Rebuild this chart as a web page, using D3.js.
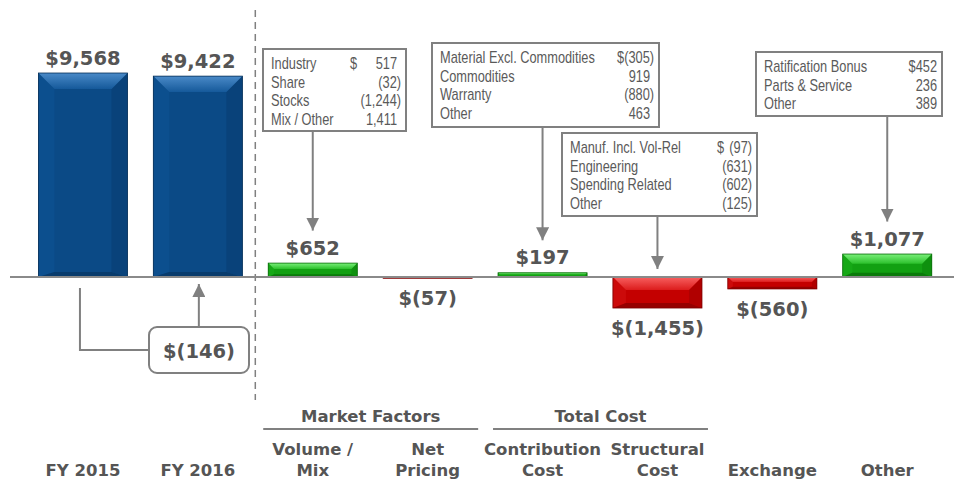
<!DOCTYPE html>
<html>
<head>
<meta charset="utf-8">
<script src="https://cdn.jsdelivr.net/npm/d3@7"></script>
<style>
  html, body { margin: 0; padding: 0; background: #ffffff; }
  svg { display: block; }
</style>
</head>
<body>
<svg id="chart" width="954" height="479"></svg>
<script>
// ---------------- DATA ----------------
const categories = ["FY 2015", "FY 2016", "Volume / Mix", "Net Pricing", "Contribution Cost", "Structural Cost", "Exchange", "Other"];
const categoryLines = [["FY 2015"], ["FY 2016"], ["Volume /", "Mix"], ["Net", "Pricing"], ["Contribution", "Cost"], ["Structural", "Cost"], ["Exchange"], ["Other"]];
const values = [9568, 9422, 652, -57, 197, -1455, -560, 1077];
const valueLabels = ["$9,568", "$9,422", "$652", "$(57)", "$197", "$(1,455)", "$(560)", "$1,077"];
const barKinds = ["total", "total", "delta", "delta", "delta", "delta", "delta", "delta"];

const groupNames = ["Market Factors", "Total Cost"];
const groupSpans = [[2, 3], [4, 5]];

const totalChange = "$(146)";

const volumeDetail = [["Industry", "$", "517"], ["Share", "", "(32)"], ["Stocks", "", "(1,244)"], ["Mix / Other", "", "1,411"]];
const contributionDetail = [["Material Excl. Commodities", "", "$(305)"], ["Commodities", "", "919"], ["Warranty", "", "(880)"], ["Other", "", "463"]];
const structuralDetail = [["Manuf. Incl. Vol-Rel", "$", "(97)"], ["Engineering", "", "(631)"], ["Spending Related", "", "(602)"], ["Other", "", "(125)"]];
const otherDetail = [["Ratification Bonus", "", "$452"], ["Parts & Service", "", "236"], ["Other", "", "389"]];

// ---------------- LAYOUT ----------------
const W = 954, H = 479;
const svg = d3.select("#chart");
const grey = "#808080";
const textDark = "#555555";
const boldFont = "'DejaVu Sans', 'Liberation Sans', Arial, sans-serif";
const narrowFont = "'Liberation Sans', Arial, sans-serif";
const narrowScale = 0.8;

const x = d3.scaleBand().domain(categories).range([25.5, 944.7]).paddingInner(0.225).paddingOuter(0.1125);
const y = d3.scaleLinear().domain([0, 10000]).range([277, 63.8]);

const palette = {
  total: { base: "#0b4a86", top1: "#4a8ac8", top2: "#15599a", left: "#0c4f8e", right: "#09427a", bottom: "#083b6c", stroke: "#062f57" },
  pos:   { base: "#12a012", top1: "#7af07a", top2: "#2cc02c", left: "#16a816", right: "#0e900e", bottom: "#0a7a0a", stroke: "#096a09" },
  neg:   { base: "#c40000", top1: "#f86060", top2: "#dc1c1c", left: "#cc0a0a", right: "#b00000", bottom: "#960000", stroke: "#7c0000" }
};

// defs: arrowhead + gradients
const defs = svg.append("defs");
defs.append("marker").attr("id", "arrow").attr("viewBox", "0 0 10 10")
  .attr("refX", 10).attr("refY", 5).attr("markerWidth", 6.5).attr("markerHeight", 6.5)
  .attr("markerUnits", "strokeWidth").attr("orient", "auto")
  .append("path").attr("d", "M0,0 L10,5 L0,10 Z").attr("fill", grey);
Object.entries(palette).forEach(([k, c]) => {
  const lg = defs.append("linearGradient").attr("id", "top-" + k).attr("x1", 0).attr("y1", 0).attr("x2", 0).attr("y2", 1);
  lg.append("stop").attr("offset", "0%").attr("stop-color", c.top1);
  lg.append("stop").attr("offset", "100%").attr("stop-color", c.top2);
});

// dashed separator
const sepX = (x(categories[1]) + x.bandwidth() + x(categories[2])) / 2;
svg.append("line").attr("x1", sepX).attr("x2", sepX).attr("y1", 10).attr("y2", 400)
  .attr("stroke", grey).attr("stroke-width", 1.5).attr("stroke-dasharray", "7,5");

// bars with bevel
const bars = svg.append("g");
values.forEach((v, i) => {
  const c = categories[i];
  const x0 = x(c), w = x.bandwidth();
  const yTop = y(Math.max(v, 0)), yBot = y(Math.min(v, 0));
  const h = Math.max(yBot - yTop, 1);
  const key = barKinds[i] === "total" ? "total" : (v >= 0 ? "pos" : "neg");
  const col = palette[key];
  const b = Math.min(16, h * 0.42);
  const bb = Math.min(5, b * 0.45);
  const g = bars.append("g");
  const x1 = x0 + w, y1 = yTop + h;
  g.append("rect").attr("x", x0).attr("y", yTop).attr("width", w).attr("height", h).attr("fill", col.base);
  const poly = (pts, fill) => g.append("polygon").attr("points", pts.map(p => p.join(",")).join(" ")).attr("fill", fill);
  poly([[x0, yTop], [x0 + b, yTop + b], [x0 + b, y1 - bb], [x0, y1]], col.left);
  poly([[x1, yTop], [x1 - b, yTop + b], [x1 - b, y1 - bb], [x1, y1]], col.right);
  poly([[x0, y1], [x0 + b, y1 - bb], [x1 - b, y1 - bb], [x1, y1]], col.bottom);
  poly([[x0, yTop], [x1, yTop], [x1 - b, yTop + b], [x0 + b, yTop + b]], `url(#top-${key})`);
  g.append("rect").attr("x", x0).attr("y", yTop).attr("width", w).attr("height", h)
    .attr("fill", "none").attr("stroke", col.stroke).attr("stroke-width", 0.8);
});

// baseline
svg.append("line").attr("x1", 10).attr("x2", W).attr("y1", y(0)).attr("y2", y(0))
  .attr("stroke", "#8a8a8a").attr("stroke-width", 2);

// value labels
const labelTops = [];
values.forEach((v, i) => {
  const cx = x(categories[i]) + x.bandwidth() / 2;
  let by;
  if (v >= 0) by = y(v) - 8.5;
  else by = y(v) + 27;
  labelTops.push(by - 15);
  svg.append("text").attr("x", cx).attr("y", by).attr("text-anchor", "middle")
    .attr("font-family", boldFont).attr("font-weight", "bold").attr("font-size", 19.5)
    .attr("fill", textDark).text(valueLabels[i]);
});

// category labels
categoryLines.forEach((lines, i) => {
  const cx = x(categories[i]) + x.bandwidth() / 2;
  const base = 476 - (lines.length - 1) * 21;
  lines.forEach((t, k) => {
    svg.append("text").attr("x", cx).attr("y", base + k * 21).attr("text-anchor", "middle")
      .attr("font-family", boldFont).attr("font-weight", "bold").attr("font-size", 16.5)
      .attr("fill", textDark).text(t);
  });
});

// group headers
groupNames.forEach((name, gI) => {
  const [a, bIdx] = groupSpans[gI];
  const xa = x(categories[a]) - 5, xb = x(categories[bIdx]) + x.bandwidth() + 6;
  svg.append("line").attr("x1", xa).attr("x2", xb).attr("y1", 429).attr("y2", 429)
    .attr("stroke", grey).attr("stroke-width", 2);
  svg.append("text").attr("x", (xa + xb) / 2).attr("y", 422).attr("text-anchor", "middle")
    .attr("font-family", boldFont).attr("font-weight", "bold").attr("font-size", 16.5)
    .attr("fill", textDark).text(name);
});

// narrow text helper (horizontally condensed)
function narrowText(g, tx, ty, str, anchor) {
  g.append("text").attr("transform", `translate(${tx},${ty}) scale(${narrowScale},1)`)
    .attr("text-anchor", anchor || "start").attr("font-family", narrowFont)
    .attr("font-size", 16).attr("fill", "#5a5a5a").text(str);
}

// detail callouts
const callouts = [
  { idx: 2, rows: volumeDetail, box: [263, 49, 143, 82], dollarX: 350 },
  { idx: 4, rows: contributionDetail, box: [432, 43, 227, 84], dollarX: null },
  { idx: 5, rows: structuralDetail, box: [562, 133, 195, 83], dollarX: 717 },
  { idx: 7, rows: otherDetail, box: [756, 52, 186, 64], dollarX: null }
];
callouts.forEach(co => {
  const [bx, byy, bw, bh] = co.box;
  const g = svg.append("g");
  g.append("rect").attr("x", bx).attr("y", byy).attr("width", bw).attr("height", bh)
    .attr("fill", "#ffffff").attr("stroke", grey).attr("stroke-width", 2);
  const anyParen = co.rows.some(r => r[2].endsWith(")"));
  co.rows.forEach((r, k) => {
    const ty = byy + 20 + k * 18.5;
    narrowText(g, bx + 8, ty, r[0]);
    if (r[1]) narrowText(g, co.dollarX, ty, r[1]);
    const dx = (anyParen && !r[2].endsWith(")")) ? -4 : 0;
    narrowText(g, bx + bw - 5 + dx, ty, r[2], "end");
  });
  const cx = x(categories[co.idx]) + x.bandwidth() / 2;
  const v = values[co.idx];
  const tip = v >= 0 ? labelTops[co.idx] - 9 : y(0) - 8;
  svg.append("line").attr("x1", cx).attr("x2", cx).attr("y1", byy + bh).attr("y2", tip)
    .attr("stroke", grey).attr("stroke-width", 2).attr("marker-end", "url(#arrow)");
});

// total change callout
const c0 = x(categories[0]) + x.bandwidth() / 2 - 3;
const c1 = x(categories[1]) + x.bandwidth() / 2 + 1;
const boxL = 149, boxT = 327, boxW = 100, boxH = 46;
svg.append("path").attr("d", `M${c0},${y(0) + 11} L${c0},${boxT + boxH / 2} L${boxL},${boxT + boxH / 2}`)
  .attr("fill", "none").attr("stroke", grey).attr("stroke-width", 2);
svg.append("line").attr("x1", c1).attr("x2", c1).attr("y1", boxT).attr("y2", y(0) + 7)
  .attr("stroke", grey).attr("stroke-width", 2).attr("marker-end", "url(#arrow)");
svg.append("rect").attr("x", boxL).attr("y", boxT).attr("width", boxW).attr("height", boxH)
  .attr("rx", 8).attr("fill", "#ffffff").attr("stroke", grey).attr("stroke-width", 2);
svg.append("text").attr("x", boxL + boxW / 2).attr("y", boxT + 31).attr("text-anchor", "middle")
  .attr("font-family", boldFont).attr("font-weight", "bold").attr("font-size", 19.5)
  .attr("fill", textDark).text(totalChange);
</script>
</body>
</html>
